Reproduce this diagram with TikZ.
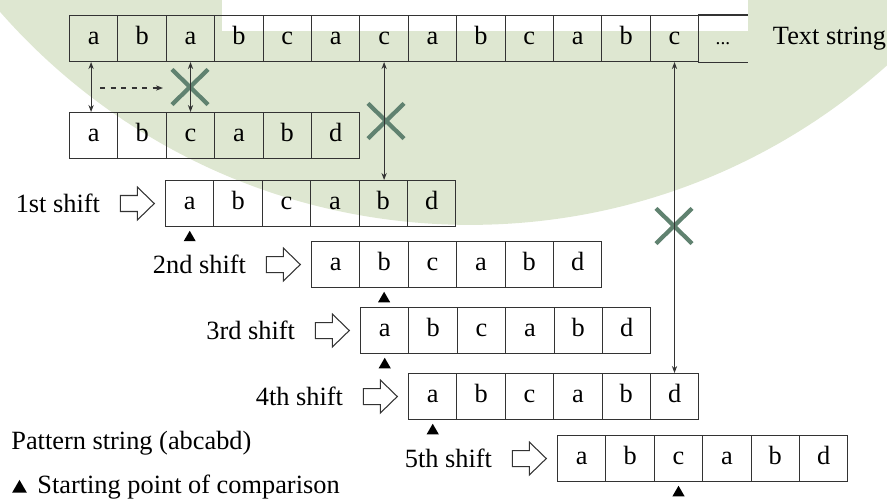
\documentclass[tikz,border=0pt]{standalone}
\usepackage{fontspec}
\setmainfont{Liberation Serif}
\usetikzlibrary{arrows.meta,positioning,shapes.misc,shapes.geometric}
\definecolor{bgc}{RGB}{222,231,209}
\definecolor{xc}{RGB}{96,130,112}
\newcommand{\cw}{48.4}

\begin{document}
\begin{tikzpicture}[x=0.02cm,y=-0.02cm,>={Stealth[length=4pt,width=3pt]},
  font=\fontsize{15}{18}\selectfont,
  cell/.style={draw=black!80,line width=0.6pt,minimum width=0.968cm,minimum height=0.92cm,inner sep=0pt,anchor=north west,text height=0.72em,text depth=0.02em},
  push/.style={minimum width=0.68cm,minimum height=0.66cm,inner sep=0pt},
  pushline/.style={draw=black!80,fill=white,line width=0.6pt,line join=miter},
  startpt/.style={regular polygon,regular polygon sides=3,fill=black,inner sep=0pt,minimum size=0.28cm},
  nomatch/.style={cross out,draw=xc,line width=2.4pt,minimum width=0.64cm,minimum height=0.62cm,inner sep=0pt},
  link/.style={<->,black!80,line width=0.6pt}]
  \useasboundingbox (0,0) rectangle (887,501);
  % page background
  \begin{scope}
    \clip (0,0) rectangle (887,501);
    \fill[bgc] (470,-400) circle[radius=12.5cm];
    \fill[white] (222,0) rectangle (748,31);
  \end{scope}
  % text string
  \foreach \ch [count=\i from 0] in {a,b,a,b,c,a,c,a,b,c,a,b,c}
    \node[cell] (t\i) at ({69+\cw*\i},15) {\ch};
  \node[cell,draw=none] (tdots) at ({69+\cw*13},15) {\fontsize{11}{13}\selectfont ...};
  \draw[black!80,line width=0.6pt] (tdots.north west) -- (tdots.north east) (tdots.south west) -- (tdots.south east);
  \node[right=0.5cm of tdots,inner sep=0pt] (tlab) {Text string};
  % pattern, first try
  \foreach \ch [count=\i from 0] in {a,b,c,a,b,d}
    \node[cell] (p\i) at ({69+\cw*\i},112) {\ch};
  % shifted patterns
  \foreach \r/\x/\y/\nm/\k in {1/165/180/1st/0,2/311/241/2nd/1,3/360/307/3rd/0,4/408/373/4th/0,5/557/435/5th/2} {
    \foreach \ch [count=\i from 0] in {a,b,c,a,b,d}
      \node[cell] (s\r-\i) at ({\x+\cw*\i},\y) {\ch};
    \node[push,left=0.2cm of s\r-0] (a\r) {};
    \draw[pushline] (a\r.west) ++(0,-8) -- ++(17,0) -- ++(0,-8.5) -- ++(17,16.5) -- ++(-17,16.5) -- ++(0,-8.5) -- ++(-17,0) -- cycle;
    \node[left=0.4cm of a\r,inner sep=0pt] (l\r) {\nm\ shift};
    \node[startpt,below=0.06cm of s\r-\k] (m\r) {};
  }
  % mismatches
  \node[nomatch] (x1) at (190,87) {};
  \node[nomatch] (x2) at (386,121) {};
  \node[nomatch] (x3) at (674,226) {};
  \draw[link] ([xshift=-1.5pt]t0.south) -- ([xshift=-1.5pt]p0.north);
  \draw[link] (t2.south) -- (p2.north);
  \draw[link] (t6.south) -- (t6.south |- s1-4.north);
  \draw[link] (t12.south) -- (t12.south |- s4-5.north);
  \coordinate (d0) at (100,88);
  \coordinate (d1) at (163,88);
  \draw[->,dashed,black!80,line width=0.6pt] (d0) -- (d1);
  % key
  \node[anchor=base west,inner sep=0pt] (pat) at (11,449) {Pattern string (abcabd)};
  \node[startpt,minimum size=0.34cm,anchor=south] (km) at (19.5,493) {};
  \node[anchor=base west,inner sep=0pt] (key) at (37,493) {Starting point of comparison};
\end{tikzpicture}
\end{document}
